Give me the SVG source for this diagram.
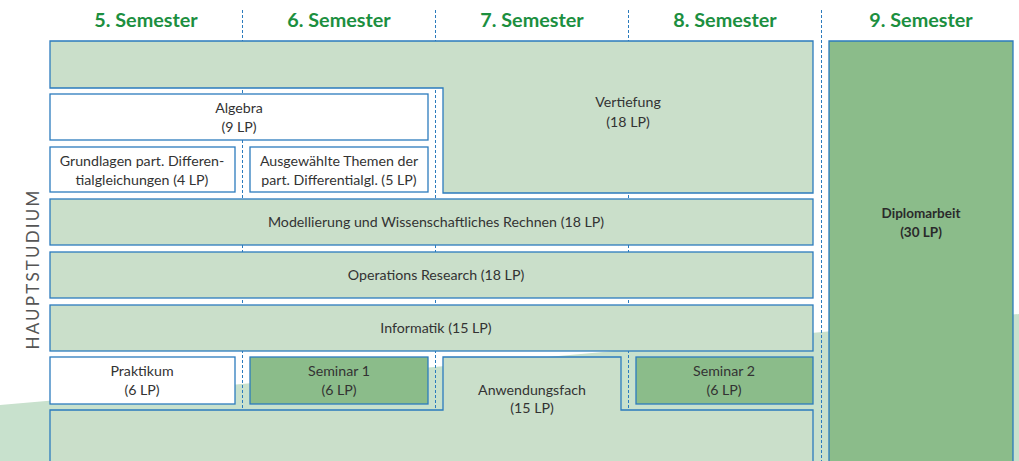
<svg xmlns="http://www.w3.org/2000/svg" width="1019" height="461" viewBox="0 0 1019 461">
<style>
.hdr{font-family:Lato,"Liberation Sans",sans-serif;font-weight:bold;font-size:19.8px;fill:#1c8f3f;text-anchor:middle}
.t{font-family:Lato,"Liberation Sans",sans-serif;font-size:14.2px;fill:#333;text-anchor:middle}
.tb{font-family:Lato,"Liberation Sans",sans-serif;font-size:13.5px;font-weight:bold;fill:#2a2a2a;text-anchor:middle}
.div{stroke:#2b7bbd;stroke-width:1;stroke-dasharray:3 2;fill:none}
.lt{fill:#cadfca;stroke:#2b7bbd;stroke-width:1.3}
.wh{fill:#fff;stroke:#2b7bbd;stroke-width:1.3}
.dk{fill:#8bbc8a;stroke:#2b7bbd;stroke-width:1.3}
.side{font-family:Lato,"Liberation Sans",sans-serif;font-size:17px;fill:#555;letter-spacing:2.2px;text-anchor:middle}
</style>
<rect width="1019" height="461" fill="#fff"/>
<path d="M0,405 Q500,362 1019,314 L1019,461 L0,461 Z" fill="#c8e1cd"/>
<g id="dividers">
<line class="div" x1="242.5" y1="10" x2="242.5" y2="461"/>
<line class="div" x1="435.5" y1="10" x2="435.5" y2="461"/>
<line class="div" x1="628.5" y1="10" x2="628.5" y2="461"/>
<line class="div" x1="821.5" y1="10" x2="821.5" y2="461"/>
</g>
<g id="headers">
<text class="hdr" x="146" y="27">5. Semester</text>
<text class="hdr" x="339" y="27">6. Semester</text>
<text class="hdr" x="532" y="27">7. Semester</text>
<text class="hdr" x="725" y="27">8. Semester</text>
<text class="hdr" x="921" y="27">9. Semester</text>
</g>
<text class="side" transform="translate(39,269) rotate(-90)">HAUPTSTUDIUM</text>
<g id="vertiefung">
<path class="lt" d="M50,41 H813 V193 H443 V88 H50 Z"/>
<text class="t" x="628" y="107">Vertiefung</text>
<text class="t" x="628" y="127">(18 LP)</text>
</g>
<g id="diplomarbeit">
<path class="dk" d="M829,475 V41 H1013 V475"/>
<text class="tb" x="921" y="218">Diplomarbeit</text>
<text class="tb" x="921" y="237">(30 LP)</text>
</g>
<g id="algebra">
<rect class="wh" x="50" y="94" width="378" height="46"/>
<text class="t" x="239" y="113">Algebra</text>
<text class="t" x="239" y="132">(9 LP)</text>
</g>
<g id="grundlagen">
<rect class="wh" x="50" y="147" width="185" height="45"/>
<text class="t" x="142" y="166">Grundlagen part. Differen-</text>
<text class="t" x="142" y="185">tialgleichungen (4 LP)</text>
</g>
<g id="ausgewaehlte">
<rect class="wh" x="250" y="147" width="178" height="45"/>
<text class="t" x="339" y="166">Ausgewählte Themen der</text>
<text class="t" x="339" y="185">part. Differentialgl. (5 LP)</text>
</g>
<g id="modellierung">
<rect class="lt" x="50" y="199" width="763" height="46"/>
<text class="t" x="436" y="227">Modellierung und Wissenschaftliches Rechnen (18 LP)</text>
</g>
<g id="operations">
<rect class="lt" x="50" y="252" width="763" height="46"/>
<text class="t" x="436" y="280">Operations Research (18 LP)</text>
</g>
<g id="informatik">
<rect class="lt" x="50" y="305" width="763" height="46"/>
<text class="t" x="436" y="333">Informatik (15 LP)</text>
</g>
<g id="anwendungsfach">
<path class="lt" d="M50,475 V410 H443 V357 H621 V410 H813 V475"/>
<text class="t" x="532" y="395">Anwendungsfach</text>
<text class="t" x="532" y="413">(15 LP)</text>
</g>
<g id="praktikum">
<rect class="wh" x="50" y="357" width="185" height="47"/>
<text class="t" x="142" y="376">Praktikum</text>
<text class="t" x="142" y="395">(6 LP)</text>
</g>
<g id="seminar1">
<rect class="dk" x="250" y="357" width="178" height="47"/>
<text class="t" x="339" y="376">Seminar 1</text>
<text class="t" x="339" y="395">(6 LP)</text>
</g>
<g id="seminar2">
<rect class="dk" x="636" y="357" width="177" height="47"/>
<text class="t" x="724" y="376">Seminar 2</text>
<text class="t" x="724" y="395">(6 LP)</text>
</g>
</svg>
